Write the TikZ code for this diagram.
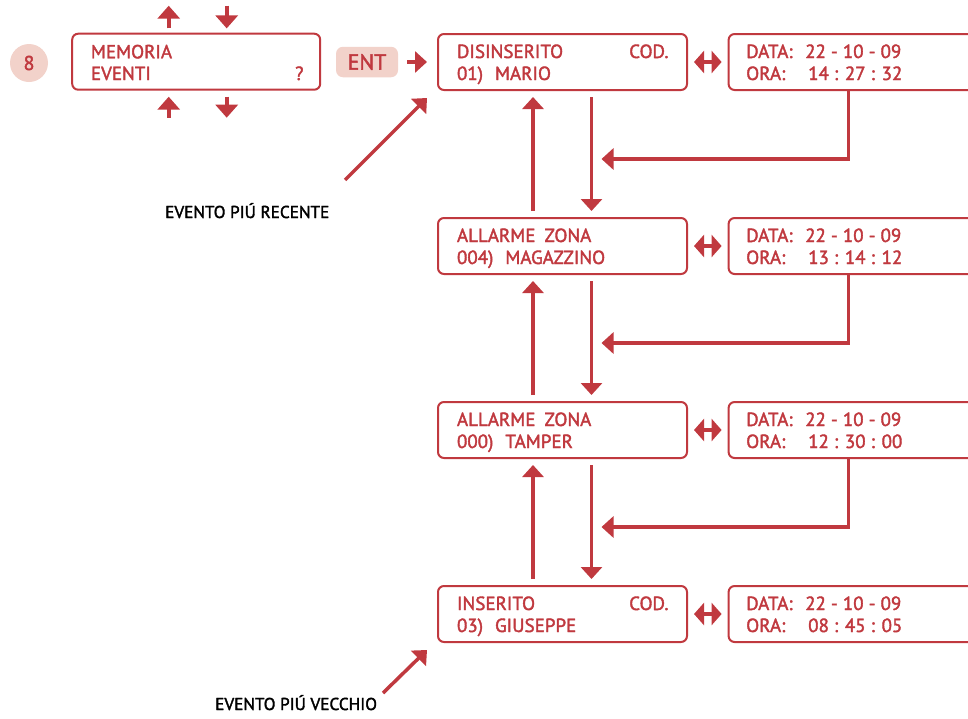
\documentclass[tikz,border=0pt]{standalone}
\usepackage{fontspec}
\setmainfont{PT Sans}[RawFeature={embolden=2}]
\usetikzlibrary{arrows.meta,calc}
\definecolor{dred}{HTML}{C0393F}
\definecolor{lpink}{HTML}{F2D2CA}
\tikzset{
  box/.style={draw=dred, line width=2pt, rounded corners=6pt, minimum width=249pt, minimum height=56pt, inner sep=0pt},
  rbox/.style={draw=dred, line width=2pt, rounded corners=6pt, minimum width=300pt, minimum height=56pt, inner sep=0pt},
  txt/.style={text=dred, font=\fontsize{19}{21}\selectfont, inner sep=0pt, anchor=base west},
  lbl/.style={text=black, font=\fontsize{17.2}{19}\selectfont, inner sep=0pt, anchor=base west},
  arr/.style={draw=dred, line width=3.5pt, -{Triangle[width=21pt,length=12pt]}},
  darr/.style={draw=dred, line width=3.5pt, {Triangle[width=22pt,length=10pt]}-{Triangle[width=22pt,length=10pt]}},
  pill/.style={fill=lpink, text=dred, inner sep=0pt},
}
\begin{document}
\begin{tikzpicture}[x=1pt,y=-1pt]
\useasboundingbox (0,0) rectangle (968,718);
\clip (0,0) rectangle (968,718);
% step number
\node[pill, circle, minimum size=38pt, font=\fontsize{20}{22}\selectfont] (num) at (29,63) {8};
% memoria box
\node[box, minimum width=248pt] (mem) at (196.2,61.7) {};
\node[txt] (memA) at (90.7,58.3) {MEMORIA};
\node[txt] (memB) at (90.7,80) {EVENTI};
\node[txt] (memQ) at (295,80) {?};
% small arrows around memoria
\coordinate (ua1) at ($(mem.north)+(-27.5,-4.3)$);
\coordinate (ua2) at ($(mem.north)+(-27.5,-27)$);
\draw[arr, line width=4pt, -{Triangle[width=22pt,length=13pt]}] (ua1) -- (ua2);
\coordinate (da1) at ($(mem.north)+(30.5,-27)$);
\coordinate (da2) at ($(mem.north)+(30.5,-4.3)$);
\draw[arr, line width=4pt, -{Triangle[width=22pt,length=13pt]}] (da1) -- (da2);
\coordinate (ub1) at ($(mem.south)+(-27.5,27)$);
\coordinate (ub2) at ($(mem.south)+(-27.5,6)$);
\draw[arr, line width=4pt, -{Triangle[width=22pt,length=13pt]}] (ub1) -- (ub2);
\coordinate (db1) at ($(mem.south)+(30.5,6)$);
\coordinate (db2) at ($(mem.south)+(30.5,27)$);
\draw[arr, line width=4pt, -{Triangle[width=22pt,length=13pt]}] (db1) -- (db2);
% ENT
\node[pill, rounded corners=7pt, minimum width=62pt, minimum height=30.5pt, font=\fontsize{22}{24}\selectfont] (ent) at (367,62) {ENT};
% event boxes
\node[box] (b1) at (562.5,62) {};
\node[box] (b2) at (562.5,246) {};
\node[box] (b3) at (562.5,430) {};
\node[box] (b4) at (562.5,614) {};
\node[rbox] (r1) at (878.6,62) {};
\node[rbox] (r2) at (878.6,246) {};
\node[rbox] (r3) at (878.6,430) {};
\node[rbox] (r4) at (878.6,614) {};
% texts box 1
\node[txt] (t1a) at (456.8,58) {DISINSERITO};
\node[txt] (t1c) at (629,58) {COD.};
\node[txt] (t1b) at (456.8,80) {01)\hspace{12pt}MARIO};
\node[txt] (s1a) at (746,58) {DATA:};
\node[txt] (s1b) at (805,58) {22 - 10 - 09};
\node[txt] (s1c) at (746,80) {ORA:};
\node[txt] (s1d) at (808,80) {14 : 27 : 32};
% box 2
\node[txt] (t2a) at (456.8,242) {ALLARME\hspace{9pt}ZONA};
\node[txt] (t2b) at (456.8,264) {004)\hspace{12pt}MAGAZZINO};
\node[txt] (s2a) at (746,242) {DATA:};
\node[txt] (s2b) at (805,242) {22 - 10 - 09};
\node[txt] (s2c) at (746,264) {ORA:};
\node[txt] (s2d) at (808,264) {13 : 14 : 12};
% box 3
\node[txt] (t3a) at (456.8,426) {ALLARME\hspace{9pt}ZONA};
\node[txt] (t3b) at (456.8,448) {000)\hspace{12pt}TAMPER};
\node[txt] (s3a) at (746,426) {DATA:};
\node[txt] (s3b) at (805,426) {22 - 10 - 09};
\node[txt] (s3c) at (746,448) {ORA:};
\node[txt] (s3d) at (808,448) {12 : 30 : 00};
% box 4
\node[txt] (t4a) at (456.8,610) {INSERITO};
\node[txt] (t4c) at (629,610) {COD.};
\node[txt] (t4b) at (456.8,632) {03)\hspace{12pt}GIUSEPPE};
\node[txt] (s4a) at (746,610) {DATA:};
\node[txt] (s4b) at (805,610) {22 - 10 - 09};
\node[txt] (s4c) at (746,632) {ORA:};
\node[txt] (s4d) at (808,632) {08 : 45 : 05};
% ENT arrow
\draw[arr] ($(ent.east)+(9,0)$) -- ($(b1.west)+(-10,0)$);
% double arrows
\foreach \i in {1,2,3,4}{
  \draw[darr] ($(b\i.east)+(6,0)$) -- ($(r\i.west)+(-6,0)$);
}
% vertical arrows between boxes
\foreach \a/\b in {1/2,2/3,3/4}{
  \draw[arr] ($(b\b.north)+(-29.5,-6)$) -- ($(b\a.south)+(-29.5,6)$);
  \draw[arr] ($(b\a.south)+(29,6)$) -- ($(b\b.north)+(29,-6)$);
  \draw[arr, line width=3.2pt] ($(r\a.south west)+(120.5,0)$) -- ++(0,68) -- ($(b\a.south)+(39,68)$);
}
% labels and diagonal arrows
\node[lbl] (lrec) at (165,218) {EVENTO PIÚ RECENTE};
\node[lbl] (lvec) at (215,710) {EVENTO PIÚ VECCHIO};
\coordinate (d1) at (345,180);
\coordinate (d2) at (383,693);
\draw[arr] (d1) -- ($(b1.south west)+(-10,7)$);
\draw[arr] (d2) -- ($(b4.south west)+(-10,7)$);
\end{tikzpicture}
\end{document}
